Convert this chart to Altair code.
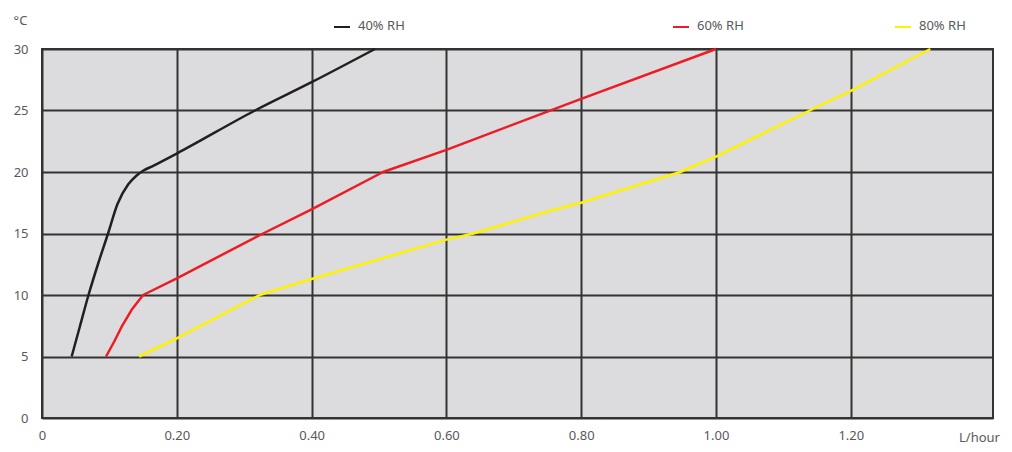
import altair as alt
import pandas as pd

# Series data
rh40_x = [0.044, 0.056, 0.069, 0.083, 0.098, 0.112, 0.128, 0.140, 0.150, 0.165, 0.200, 0.316, 0.400, 0.494]
rh40_y = [5.0, 7.4, 10.0, 12.5, 15.0, 17.4, 19.0, 19.7, 20.1, 20.5, 21.5, 25.0, 27.3, 30.0]

rh60_x = [0.095, 0.107, 0.118, 0.133, 0.150, 0.200, 0.328, 0.400, 0.506, 0.600, 0.800, 1.000]
rh60_y = [5.0, 6.2, 7.4, 8.8, 10.0, 11.36, 15.0, 16.97, 20.0, 21.8, 25.95, 30.0]

rh80_x = [0.144, 0.200, 0.323, 0.400, 0.600, 0.640, 0.754, 0.800, 0.947, 1.000, 1.139, 1.200, 1.318]
rh80_y = [5.0, 6.48, 10.0, 11.3, 14.5, 15.0, 16.85, 17.5, 20.0, 21.25, 25.0, 26.6, 30.0]

series_names = ["40% RH", "60% RH", "80% RH"]
series_colors = ["#231f20", "#ed1c24", "#fff200"]

x_ticks = [0, 0.2, 0.4, 0.6, 0.8, 1.0, 1.2]
y_ticks = [0, 5, 10, 15, 20, 25, 30]

rows = []
for name, xs, ys in zip(series_names, [rh40_x, rh60_x, rh80_x], [rh40_y, rh60_y, rh80_y]):
    for i, (a, b) in enumerate(zip(xs, ys)):
        rows.append({"series": name, "order": i, "lph": a, "temp": b})
df = pd.DataFrame(rows)

FONT = "Noto Sans"
LABEL_COLOR = "#58595b"

x_enc = alt.X(
    "lph:Q",
    scale=alt.Scale(domain=[0, 1.411], nice=False, zero=True),
    axis=alt.Axis(
        values=x_ticks,
        labelExpr="datum.value == 0 ? '0' : format(datum.value, '.2f')",
        title="L/hour",
        titleX=937, titleY=19, titleAlign="center", titleBaseline="middle",
        titleFontWeight="normal", titleFont=FONT, titleFontSize=13, titleColor=LABEL_COLOR,
        labelFont=FONT, labelFontSize=13, labelColor=LABEL_COLOR,
        labelPadding=11, ticks=False, domain=False,
        grid=True, gridColor="#333333", gridWidth=2, gridOpacity=1,
        labelFlush=False,
    ),
)
y_enc = alt.Y(
    "temp:Q",
    scale=alt.Scale(domain=[0, 30], nice=False),
    axis=alt.Axis(
        values=y_ticks,
        title="°C",
        titleAngle=0, titleX=-22, titleY=-29, titleAlign="center", titleBaseline="middle",
        titleFontWeight="normal", titleFont=FONT, titleFontSize=13, titleColor=LABEL_COLOR,
        labelFont=FONT, labelFontSize=13, labelColor=LABEL_COLOR,
        labelPadding=14, ticks=False, domain=False,
        grid=True, gridColor="#333333", gridWidth=2, gridOpacity=1,
        labelFlush=False,
    ),
)

color_enc = alt.Color(
    "series:N", scale=alt.Scale(domain=series_names, range=series_colors), legend=None
)

base = alt.Chart(df).encode(
    x=x_enc, y=y_enc, color=color_enc, order="order:Q", detail="series:N"
)

line40 = base.transform_filter(alt.datum.series == series_names[0]).mark_line(
    strokeWidth=2.5, interpolate="monotone"
)
line_rest = base.transform_filter(alt.datum.series != series_names[0]).mark_line(
    strokeWidth=2.5, interpolate="linear", strokeJoin="round"
)

# Manual legend across the top
legend_sym_x = [292, 631, 853]
legend_layers = []
for name, col, lx in zip(series_names, series_colors, legend_sym_x):
    ldf = pd.DataFrame({"label": [name]})
    legend_layers.append(
        alt.Chart(ldf).mark_rule(color=col, strokeWidth=2).encode(
            x=alt.value(lx), x2=alt.value(lx + 16), y=alt.value(-22)
        )
    )
    legend_layers.append(
        alt.Chart(ldf).mark_text(
            align="left", baseline="middle", font=FONT, fontSize=13, color=LABEL_COLOR
        ).encode(x=alt.value(lx + 24), y=alt.value(-23), text="label:N")
    )

chart = alt.layer(line40, line_rest, *legend_layers).properties(
    width=951,
    height=369,
    autosize=alt.AutoSizeParams(type="none"),
    padding={"left": 34, "top": 41, "right": 10, "bottom": 26},
    background="white",
).configure_view(
    fill="#dcdcde", stroke="#333333", strokeWidth=2
)

chart.save("out.html", embed_options={"renderer": "svg", "actions": False})
